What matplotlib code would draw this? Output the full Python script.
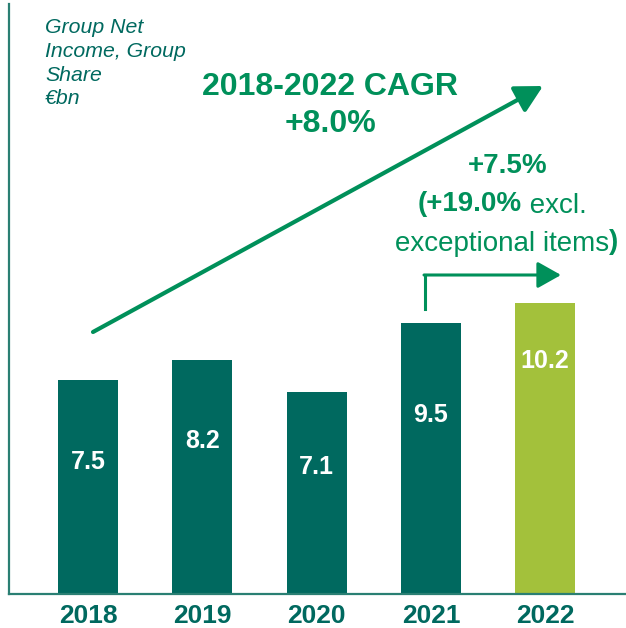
import matplotlib.pyplot as plt
from matplotlib.patches import FancyArrowPatch

years = ["2018", "2019", "2020", "2021", "2022"]
income = [7.5, 8.2, 7.1, 9.5, 10.2]
label_y = [4.63, 5.37, 4.46, 6.28, 8.18]   # where the value sits inside each bar

teal = "#00695F"
lime = "#A3C13B"
green = "#00905A"
colors = [teal, teal, teal, teal, lime]

W, H = 626, 628
fig = plt.figure(figsize=(W / 100, H / 100), dpi=100)
ax = fig.add_axes([9 / W, 34 / H, 617 / W, 590 / H])

x = range(len(years))
ax.bar(x, income, width=0.525, color=colors, zorder=2)
for i, v in enumerate(income):
    ax.text(i, label_y[i], f"{v}", ha="center", va="center", color="white",
            fontsize=18, fontweight="bold", family="Liberation Sans")

ax.set_xlim(-0.691, 4.707)
ax.set_ylim(0, 20.7)
ax.set_yticks([])
ax.set_xticks(list(x))
ax.set_xticklabels(years, fontsize=19, fontweight="bold", color=teal,
                   family="Liberation Sans")
ax.tick_params(axis="x", length=0, pad=7)
for s in ["top", "right"]:
    ax.spines[s].set_visible(False)
for s in ["left", "bottom"]:
    ax.spines[s].set_color("#2a7f73")
    ax.spines[s].set_linewidth(1.6)


def px(a, b):
    return a / W, 1 - b / H


# y-axis title
fig.text(*px(45, 18), "Group Net\nIncome, Group\nShare\n€bn", ha="left", va="top",
         color=teal, fontsize=15.3, style="italic", family="Liberation Sans",
         linespacing=1.32)

# CAGR arrow and text
fig.text(*px(330, 87), "2018-2022 CAGR", ha="center", va="center", color=green,
         fontsize=23, fontweight="bold", family="Liberation Sans")
fig.text(*px(330, 124), "+8.0%", ha="center", va="center", color=green,
         fontsize=23, fontweight="bold", family="Liberation Sans")
arr = FancyArrowPatch(px(93, 332), px(543, 86), transform=fig.transFigure,
                      arrowstyle="-|>,head_length=0.75,head_width=0.4",
                      mutation_scale=22, color=green, lw=3, shrinkA=0, shrinkB=0)
fig.add_artist(arr)

# 2021-2022 annotation
fig.text(*px(508, 166), "+7.5%", ha="center", va="center", color=green,
         fontsize=20, fontweight="bold", family="Liberation Sans")
fig.text(*px(522, 204), "(+19.0%", ha="right", va="center", color=green,
         fontsize=20, fontweight="bold", family="Liberation Sans")
fig.text(*px(522, 206), " excl.", ha="left", va="center", color=green,
         fontsize=20, family="Liberation Sans")
fig.text(*px(609, 244), "exceptional items", ha="right", va="center", color=green,
         fontsize=20, family="Liberation Sans")
fig.text(*px(609, 242), ")", ha="left", va="center", color=green,
         fontsize=20, fontweight="bold", family="Liberation Sans")

x0, y0 = px(425, 309)
x1, y1 = px(425, 275)
fig.add_artist(plt.Line2D([x0, x1], [y0, y1], transform=fig.transFigure,
                          color=green, lw=2.2))
arr2 = FancyArrowPatch(px(424, 275), px(561, 275), transform=fig.transFigure,
                       arrowstyle="-|>,head_length=0.8,head_width=0.45",
                       mutation_scale=18, color=green, lw=2.2, shrinkA=0, shrinkB=0)
fig.add_artist(arr2)

fig.savefig("out.png", dpi=100)
